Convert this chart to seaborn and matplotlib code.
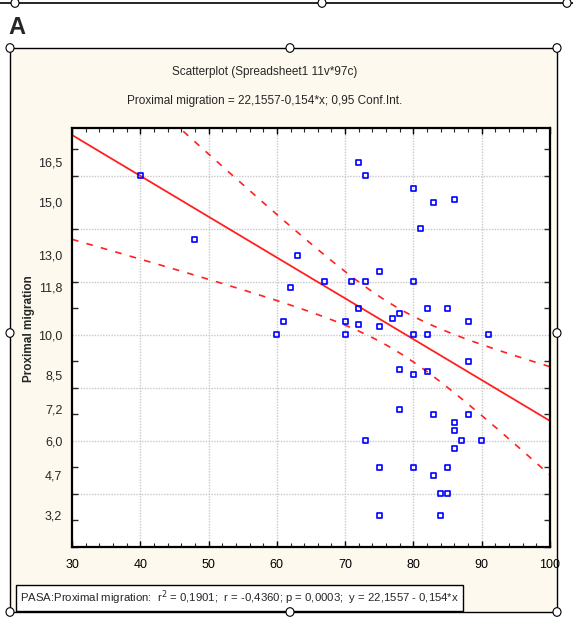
import matplotlib
matplotlib.use("Agg")
import matplotlib.pyplot as plt
import numpy as np
import pandas
import seaborn as sns
from matplotlib.patches import Rectangle, Circle
from matplotlib.ticker import MultipleLocator, FixedLocator

sns.set_style("white")
plt.rcParams["font.family"] = ["Liberation Sans", "DejaVu Sans"]

# PASA (x) vs proximal migration (y)
pasa = [40, 48, 60, 61, 62, 63, 67, 70, 70, 71, 72, 72, 72, 73, 73, 73, 75, 75,
        75, 75, 77, 78, 78, 78, 80, 80, 80, 80, 80, 81, 82, 82, 82, 83, 83, 83,
        84, 84, 85, 85, 85, 86, 86, 86, 86, 87, 88, 88, 88, 90, 91]
migration = [16.0, 13.6, 10.0, 10.5, 11.8, 13.0, 12.0, 10.5, 10.0, 12.0, 16.5,
             11.0, 10.4, 16.0, 12.0, 6.0, 12.4, 10.3, 5.0, 3.2, 10.6, 10.8, 8.7,
             7.2, 15.5, 12.0, 10.0, 8.5, 5.0, 14.0, 11.0, 10.0, 8.6, 15.0, 7.0,
             4.7, 4.0, 3.2, 11.0, 5.0, 4.0, 15.1, 6.7, 6.4, 5.7, 6.0, 10.5, 9.0,
             7.0, 6.0, 10.0]

# regression printed on the chart
fit_intercept = 22.1557
fit_slope = -0.154
# some cases overlap on the plot; r and p on the chart point to about 64 cases
n_cases = 64

ytick_vals = [3.2, 4.7, 6.0, 7.2, 8.5, 10.0, 11.8, 13.0, 15.0, 16.5]
ytick_labels = ["3,2", "4,7", "6,0", "7,2", "8,5", "10,0", "11,8", "13,0", "15,0", "16,5"]
xtick_vals = [30, 40, 50, 60, 70, 80, 90, 100]

title1 = "Scatterplot (Spreadsheet1 11v*97c)"
title2 = "Proximal migration = 22,1557-0,154*x; 0,95 Conf.Int."
stats_text = ("PASA:Proximal migration:  r$^2$ = 0,1901;  r = -0,4360; "
              "p = 0,0003;  y = 22,1557 - 0,154*x")

df = pandas.DataFrame({"PASA": pasa, "Proximal migration": migration})

# regression line with 95% confidence band for the mean
x = np.array(pasa, dtype=float)
y = np.array(migration, dtype=float)
n = len(x)
resid = y - (fit_intercept + fit_slope * x)
s = np.sqrt(np.sum(resid ** 2) / (n - 2))
sxx = np.sum((x - x.mean()) ** 2) * n_cases / n
t_crit = 2.0
xs = np.linspace(30, 100, 200)
fit = fit_intercept + fit_slope * xs
half = t_crit * s * np.sqrt(1.0 / n_cases + (xs - x.mean()) ** 2 / sxx)
df_fit = pandas.DataFrame({"x": xs, "fit": fit, "lo": fit - half, "hi": fit + half})

fig = plt.figure(figsize=(5.73, 6.17), dpi=100)

# cream panel behind the graph
W, H = 573.0, 617.0
fig.patches.append(Rectangle((10 / W, 1 - 612 / H), 547 / W, 564 / H,
                             transform=fig.transFigure, facecolor="#FDF9EE",
                             edgecolor="black", linewidth=1.0, zorder=-2))
fig.lines.append(plt.Line2D([0, 1], [1 - 3 / H, 1 - 3 / H], transform=fig.transFigure,
                            color="black", linewidth=1.2))
for hx, hy in [(10, 48), (290, 48), (557, 48), (10, 333), (557, 333),
               (10, 612), (290, 612), (557, 612), (15, 3), (322, 3), (567, 3)]:
    fig.patches.append(Circle((hx / W, 1 - hy / H), 4 / W, transform=fig.transFigure,
                              facecolor="white", edgecolor="black", linewidth=0.8,
                              zorder=5))

ax = fig.add_axes([72 / W, 1 - 547 / H, 478 / W, 419 / H])
ax.set_zorder(1)
ax.set_facecolor("white")
ax.set_xlim(30, 100)
ax.set_ylim(2.0, 17.8)

# grid lines (even values on y)
for v in [4, 6, 8, 10, 12, 14, 16]:
    ax.axhline(v, color="#C8C8C8", linestyle=(0, (1, 1)), linewidth=1.0, zorder=0)
for v in xtick_vals[1:-1]:
    ax.axvline(v, color="#C8C8C8", linestyle=(0, (1, 1)), linewidth=1.0, zorder=0)

sns.lineplot(data=df_fit, x="x", y="fit", color="#FF2020", linewidth=1.3, ax=ax)
sns.lineplot(data=df_fit, x="x", y="lo", color="#FF2020", linewidth=1.2,
             linestyle=(0, (4, 5)), ax=ax)
sns.lineplot(data=df_fit, x="x", y="hi", color="#FF2020", linewidth=1.2,
             linestyle=(0, (4, 5)), ax=ax)
sns.scatterplot(data=df, x="PASA", y="Proximal migration", marker="s", s=13,
                facecolor="none", edgecolor="#0000FF", linewidth=1.2, ax=ax, zorder=4)

ax.set_xticks(xtick_vals)
ax.set_xticklabels([str(v) for v in xtick_vals], fontsize=9)
ax.xaxis.set_minor_locator(MultipleLocator(2))
ax.yaxis.set_major_locator(FixedLocator(ytick_vals))
ax.set_yticklabels(ytick_labels, fontsize=9)
ax.yaxis.set_minor_locator(MultipleLocator(1))
ax.tick_params(axis="x", which="major", direction="in", length=4, width=1,
               top=True, bottom=True, pad=9, colors="black")
ax.tick_params(axis="x", which="minor", direction="in", length=3, width=0.8,
               top=True, bottom=True)
ax.tick_params(axis="y", which="major", length=0, pad=7)
ax.tick_params(axis="y", which="minor", direction="in", length=4, width=1,
               left=True, right=True)
for sp in ax.spines.values():
    sp.set_visible(True)
    sp.set_color("black")
    sp.set_linewidth(1.6)

ax.set_xlabel("")
ax.set_ylabel("Proximal migration", fontsize=8.5, fontweight="bold")
ax.yaxis.set_label_coords((35 - 72) / 478, 0.52)

fig.text(265 / W, 1 - 72 / H, title1, ha="center", va="center", fontsize=8.5)
fig.text(265 / W, 1 - 101 / H, title2, ha="center", va="center", fontsize=8.5)
fig.text(8 / W, 1 - 28 / H, "A", ha="left", va="center", fontsize=17, fontweight="bold")
fig.text(20 / W, 1 - 598 / H, stats_text, ha="left", va="center", fontsize=8.2,
         bbox=dict(boxstyle="square,pad=0.35", facecolor="white", edgecolor="black",
                   linewidth=1.0))

fig.savefig("out.png", dpi=100)
